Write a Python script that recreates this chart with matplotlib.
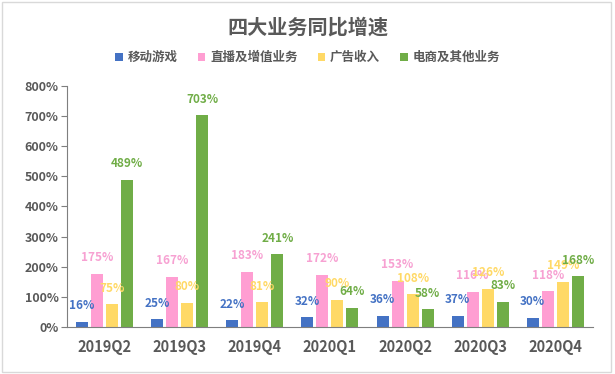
import matplotlib
matplotlib.use("Agg")
import matplotlib.pyplot as plt
from matplotlib.patches import Rectangle
import numpy as np

plt.rcParams['font.family'] = ['Noto Sans CJK SC', 'DejaVu Sans']

quarters = ["2019Q2", "2019Q3", "2019Q4", "2020Q1", "2020Q2", "2020Q3", "2020Q4"]
series_names = ["移动游戏", "直播及增值业务", "广告收入", "电商及其他业务"]
mobile_games = [16, 25, 22, 32, 36, 37, 30]
live_vas = [175, 167, 183, 172, 153, 116, 118]
ads = [75, 80, 81, 90, 108, 126, 149]
ecommerce = [489, 703, 241, 64, 58, 83, 168]

series = [mobile_games, live_vas, ads, ecommerce]
colors = ["#4472C4", "#FF9ED2", "#FFD966", "#70AD47"]
label_colors = ["#4472C4", "#F7A1D2", "#FFD966", "#70AD47"]
grey = "#595959"

fig = plt.figure(figsize=(6.15, 3.74), dpi=100)
ax = fig.add_axes([0.109, 0.126, 0.855, 0.644])

x = np.arange(len(quarters))
width = 0.16
step = 0.2
for i, (vals, name) in enumerate(zip(series, series_names)):
    pos = x + (i - 1.5) * step
    ax.bar(pos, vals, width, color=colors[i], label=name)
    for px, v in zip(pos, vals):
        ax.annotate(f"{v}%", (px, v), xytext=(0, 7), textcoords="offset points",
                    ha="center", va="bottom", fontsize=8.5, fontweight="bold",
                    color=label_colors[i])

ax.set_xlim(-0.5, len(quarters) - 0.5)
ax.set_ylim(0, 800)
ax.set_yticks(range(0, 801, 100))
ax.set_yticklabels([f"{t}%" for t in range(0, 801, 100)])
ax.set_xticks(x)
ax.set_xticklabels(quarters)

for s in ["top", "right"]:
    ax.spines[s].set_visible(False)
ax.spines["left"].set_color("#7F7F7F")
ax.spines["bottom"].set_color("#7F7F7F")
ax.tick_params(axis="y", length=4, color="#7F7F7F", labelsize=9, labelcolor=grey, pad=2)
ax.tick_params(axis="x", length=0, labelsize=10.5, labelcolor=grey, pad=9)
for lbl in ax.get_xticklabels() + ax.get_yticklabels():
    lbl.set_fontweight("bold")

fig.text(0.5, 0.928, "四大业务同比增速", ha="center", va="center",
         fontsize=14.5, fontweight="bold", color=grey)
fig.legend(loc="center", bbox_to_anchor=(0.5, 0.846), ncol=4, frameon=False,
           handlelength=0.6, handleheight=0.6, handletextpad=0.4, columnspacing=1.6,
           prop={"size": 9, "weight": "bold"}, labelcolor=grey)

fig.patches.append(Rectangle((0.004, 0.006), 0.99, 0.988, transform=fig.transFigure,
                             fill=False, edgecolor="#D9D9D9", linewidth=1))

fig.savefig("out.png", dpi=100)
